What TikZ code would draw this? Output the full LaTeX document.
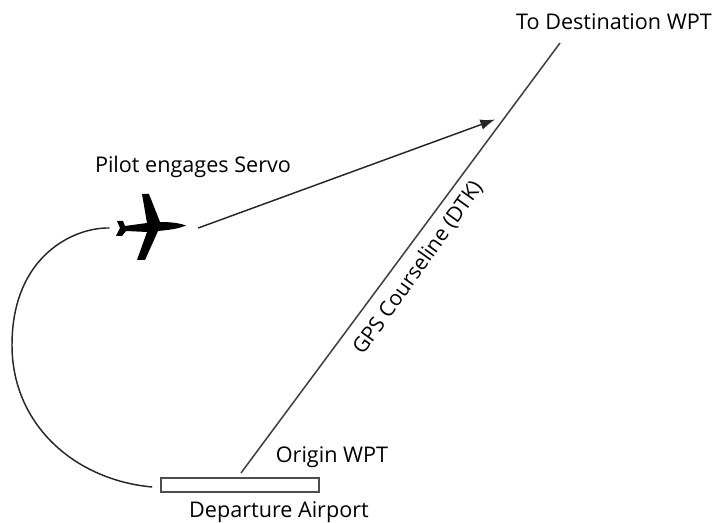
\documentclass[tikz,border=0pt]{standalone}
\usepackage{fontspec}
\setmainfont{Open Sans}
\usetikzlibrary{positioning,arrows.meta}

\tikzset{
  label text/.style={font=\fontsize{16.2}{19}\selectfont,inner sep=0pt},
  course/.style={draw=black!75,line width=1.15pt},
  track/.style={draw=black!85,line width=1.1pt},
}

\begin{document}
\begin{tikzpicture}[x=0.75pt,y=-0.75pt]
    \useasboundingbox (0,0) rectangle (714,523);
    \node[minimum width=66pt,minimum height=52pt,inner sep=0pt] (plane) at (154,228) {};
    \node[draw=black!70,line width=1.2pt,minimum width=118.5pt,minimum height=10.5pt,inner sep=0pt] (airport) at (240,485) {};
    \coordinate (origin)  at (241,473);
    \coordinate (dest)    at (560,43);
    \coordinate (capture) at (495,119.5);
    \node[label text] (pilot)   at (193,167) {Pilot engages Servo};
    \node[label text] (towpt)   at (614,22)  {To Destination WPT};
    \node[label text] (orgwpt)  at (332,457) {Origin WPT};
    \node[label text] (depart)  at (279,512) {Departure Airport};
    \node[label text,rotate=54.5,font=\fontsize{15.8}{19}\selectfont] (dtk) at (418,268) {GPS Courseline (DTK)};
    % airplane
    \fill[black] (186,225.5) .. controls (178,222.5) and (168,222) .. (160,222)
      -- (149,194) -- (142,194) -- (147,223) -- (125,226) -- (123,221) -- (117,221)
      -- (120,228) -- (116,236) -- (122,236) -- (126,231) -- (147,232) -- (137,260)
      -- (145,260) -- (158,231) .. controls (168,230) and (178,229) .. (186,225.5) -- cycle;
    % connectors
    \path[course] (origin) -- (dest);
    \draw[track,-{Latex[length=11pt,width=8pt]}] (plane.east) -- (capture);
    \path[track] (plane.west) .. controls (75,227) and (12,255) .. (12,345)
      .. controls (12,425) and (75,480) .. ([xshift=-6pt,yshift=-1.5pt]airport.west);
\end{tikzpicture}
\end{document}
